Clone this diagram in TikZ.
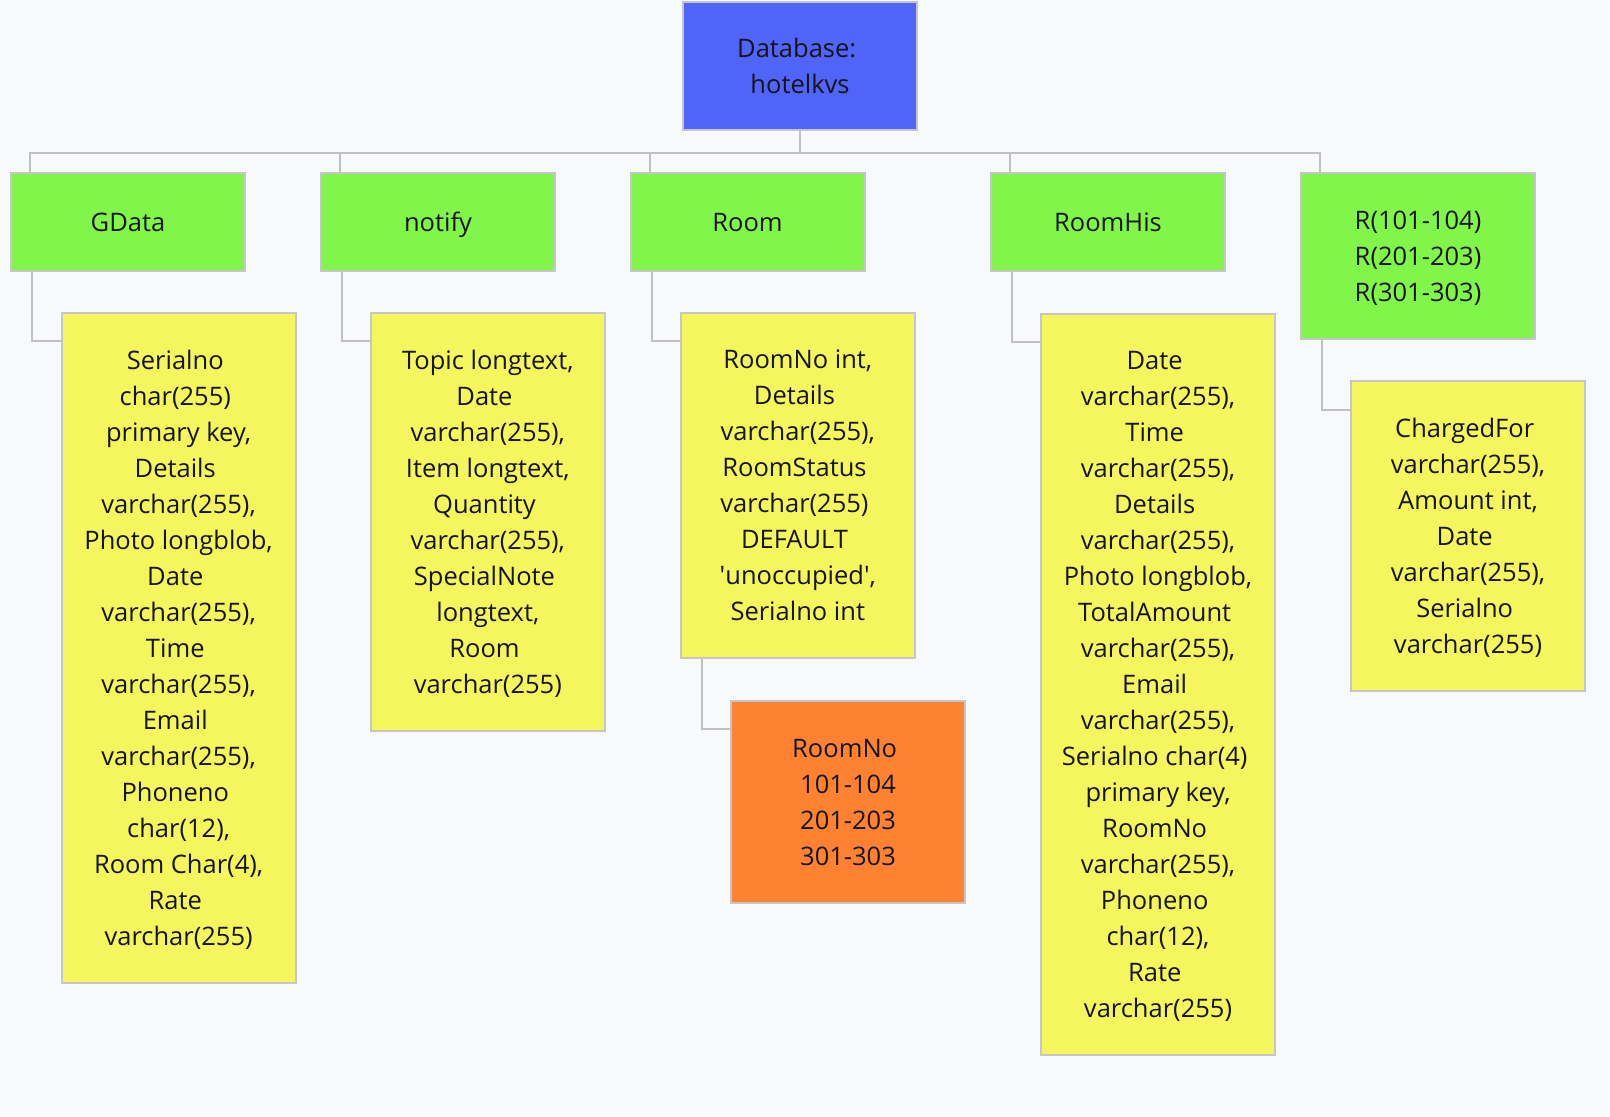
\documentclass[tikz,border=0pt]{standalone}
\usepackage{fontspec}
\setmainfont{Open Sans}

\definecolor{pagebg}{HTML}{F8F9FB}
\definecolor{dbblue}{HTML}{5064FA}
\definecolor{tblgreen}{HTML}{82F54A}
\definecolor{fldyellow}{HTML}{F5F55E}
\definecolor{valorange}{HTML}{FF8232}
\definecolor{edgegray}{HTML}{C6C6C8}
\definecolor{linkgray}{HTML}{C0C0C2}
\definecolor{inktext}{HTML}{151515}

% fixed line height for the first and last text line, and the width of a wrapped line's trailing space
\newcommand\linestrut{\rule[-8.7bp]{0pt}{36bp}}
\newcommand\trailsp{\kern0.26em}
\newcommand\lines[1]{\linestrut#1\linestrut}

\tikzset{
  box/.style={draw=edgegray, line width=2bp, inner sep=0pt,
    minimum width=234bp, align=center, text=inktext,
    font=\fontsize{25.5bp}{36bp}\selectfont},
  dbbox/.style={box, fill=dbblue},
  tblbox/.style={box, fill=tblgreen},
  fldbox/.style={box, fill=fldyellow},
  valbox/.style={box, fill=valorange},
  conn/.style={draw=linkgray, line width=2bp}
}

\begin{document}
\begin{tikzpicture}[x=1bp,y=-1bp]
  % page background
  \fill[pagebg] (0,0) rectangle (1610,1116);
  \useasboundingbox (0,0) rectangle (1610,1116);

  % junction of the top-level bus
  \coordinate (bus) at (800,153);

  % database and tables
  \node[dbbox, minimum height=128bp] (db) at (800,66) {\lines{Database:\trailsp\\hotelkvs}};

  \node[tblbox, minimum height=98bp] (gdata) at (128,222) {\lines{GData}};
  \node[tblbox, minimum height=98bp] (notify) at (438,222) {\lines{notify}};
  \node[tblbox, minimum height=98bp] (room) at (747.5,222) {\lines{Room}};
  \node[tblbox, minimum height=98bp] (roomhis) at (1108,222) {\lines{RoomHis}};
  \node[tblbox, minimum height=166bp] (rgrp) at (1418,256) {\lines{R(101-104)\\R(201-203)\\R(301-303)}};

  % field lists
  \node[fldbox, minimum height=670bp] (gdataf) at (178.6,648)
    {\lines{Serialno\trailsp\\char(255)\trailsp\\primary key,\\Details\trailsp\\varchar(255),\\Photo longblob,\\Date\trailsp\\varchar(255),\\Time\trailsp\\varchar(255),\\Email\trailsp\\varchar(255),\\Phoneno\trailsp\\char(12),\\Room Char(4),\\Rate\trailsp\\varchar(255)}};
  \node[fldbox, minimum height=418bp] (notifyf) at (487.8,522)
    {\lines{Topic longtext,\\Date\trailsp\\varchar(255),\\Item longtext,\\Quantity\trailsp\\varchar(255),\\SpecialNote\trailsp\\longtext,\\Room\trailsp\\varchar(255)}};
  \node[fldbox, minimum height=345bp] (roomf) at (797.8,485.5)
    {\lines{RoomNo int,\\Details\trailsp\\varchar(255),\\RoomStatus\trailsp\\varchar(255)\trailsp\\DEFAULT\trailsp\\\textquotesingle unoccupied\textquotesingle,\\Serialno int}};
  \node[valbox, minimum height=202bp] (roomno) at (848,802)
    {\lines{RoomNo\trailsp\\101-104\\201-203\\301-303}};
  \node[fldbox, minimum height=741bp] (roomhisf) at (1158,684)
    {\lines{Date\trailsp\\varchar(255),\\Time\trailsp\\varchar(255),\\Details\trailsp\\varchar(255),\\Photo longblob,\\TotalAmount\trailsp\\varchar(255),\\Email\trailsp\\varchar(255),\\Serialno char(4)\trailsp\\primary key,\\RoomNo\trailsp\\varchar(255),\\Phoneno\trailsp\\char(12),\\Rate\trailsp\\varchar(255)}};
  \node[fldbox, minimum height=310bp] (chargef) at (1468,536)
    {\lines{ChargedFor\trailsp\\varchar(255),\\Amount int,\\Date\trailsp\\varchar(255),\\Serialno\trailsp\\varchar(255)}};

  % bus from the database to each table
  \draw[conn] (db.south) -- (bus);
  \draw[conn] ([xshift=20bp]gdata.north west) |- (bus);
  \draw[conn] ([xshift=20bp]notify.north west) |- (bus);
  \draw[conn] ([xshift=20bp]room.north west) |- (bus);
  \draw[conn] ([xshift=20bp]roomhis.north west) |- (bus);
  \draw[conn] ([xshift=20bp]rgrp.north west) |- (bus);

  % elbows from each table to its field list
  \draw[conn] ([xshift=22bp]gdata.south west) |- ([yshift=-29bp]gdataf.north west);
  \draw[conn] ([xshift=22bp]notify.south west) |- ([yshift=-29bp]notifyf.north west);
  \draw[conn] ([xshift=22bp]room.south west) |- ([yshift=-29bp]roomf.north west);
  \draw[conn] ([xshift=22bp]roomhis.south west) |- ([yshift=-29bp]roomhisf.north west);
  \draw[conn] ([xshift=22bp]rgrp.south west) |- ([yshift=-30bp]chargef.north west);
  \draw[conn] ([xshift=22bp]roomf.south west) |- ([yshift=-29bp]roomno.north west);
\end{tikzpicture}
\end{document}
